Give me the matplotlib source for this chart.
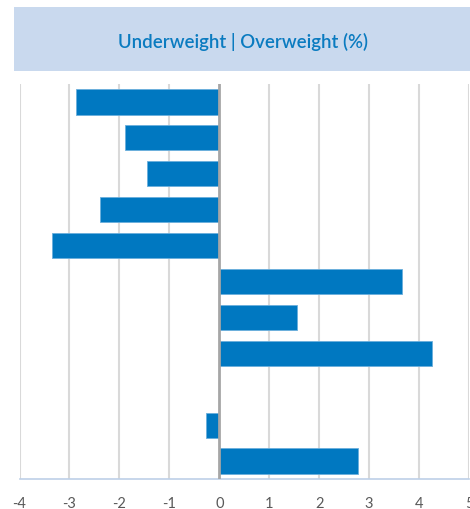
import matplotlib
matplotlib.use("Agg")
import matplotlib.pyplot as plt
from matplotlib.patches import Rectangle

categories = ["A", "B", "C", "D", "E", "F", "G", "H", "I", "J", "K"]
values = [-2.86, -1.88, -1.44, -2.38, -3.35, 3.65, 1.56, 4.25, 0.0, -0.27, 2.78]
xticks = [-4, -3, -2, -1, 0, 1, 2, 3, 4, 5]
title = "Underweight | Overweight (%)"

plt.rcParams['font.family'] = ["Lato", "DejaVu Sans"]

fig = plt.figure(figsize=(4.7, 5.1), dpi=100)
fig.patch.set_facecolor("white")

# title box
fig.patches.append(Rectangle((14/470, 1 - 72/510), 456/470, 64/510,
                             transform=fig.transFigure, facecolor="#C9D9EE",
                             edgecolor="none", zorder=0))
fig.text(243/470, 1 - 42/510, title, ha="center", va="center",
         color="#0A7BC0", fontsize=13.4, fontweight="semibold")

ax = fig.add_axes([19.5/470, 30/510, 449.5/470, 395/510])
pos = list(range(len(categories)))
ax.barh(pos, values, height=0.7, color="#0078C1", edgecolor="#6AAEDC",
        linewidth=0.6, zorder=3)
ax.set_ylim(len(categories) - 0.5, -0.5)
ax.set_xlim(xticks[0], xticks[-1])
ax.set_xticks(xticks)
ax.set_xticklabels([str(t) for t in xticks])
ax.set_yticks([])
ax.tick_params(axis="x", length=0, pad=12.5, labelsize=10.5, labelcolor="#595959")
for t in xticks:
    if t == 0:
        ax.axvline(t, color="#A6A6A6", lw=2.0, zorder=4)
    else:
        ax.axvline(t, color="#D9D9D9", lw=1.5, zorder=1)
for s in ["top", "left", "right"]:
    ax.spines[s].set_visible(False)
ax.spines["bottom"].set_color("#BDD0E8")
ax.spines["bottom"].set_linewidth(1.2)

fig.savefig("out.png", dpi=100)
